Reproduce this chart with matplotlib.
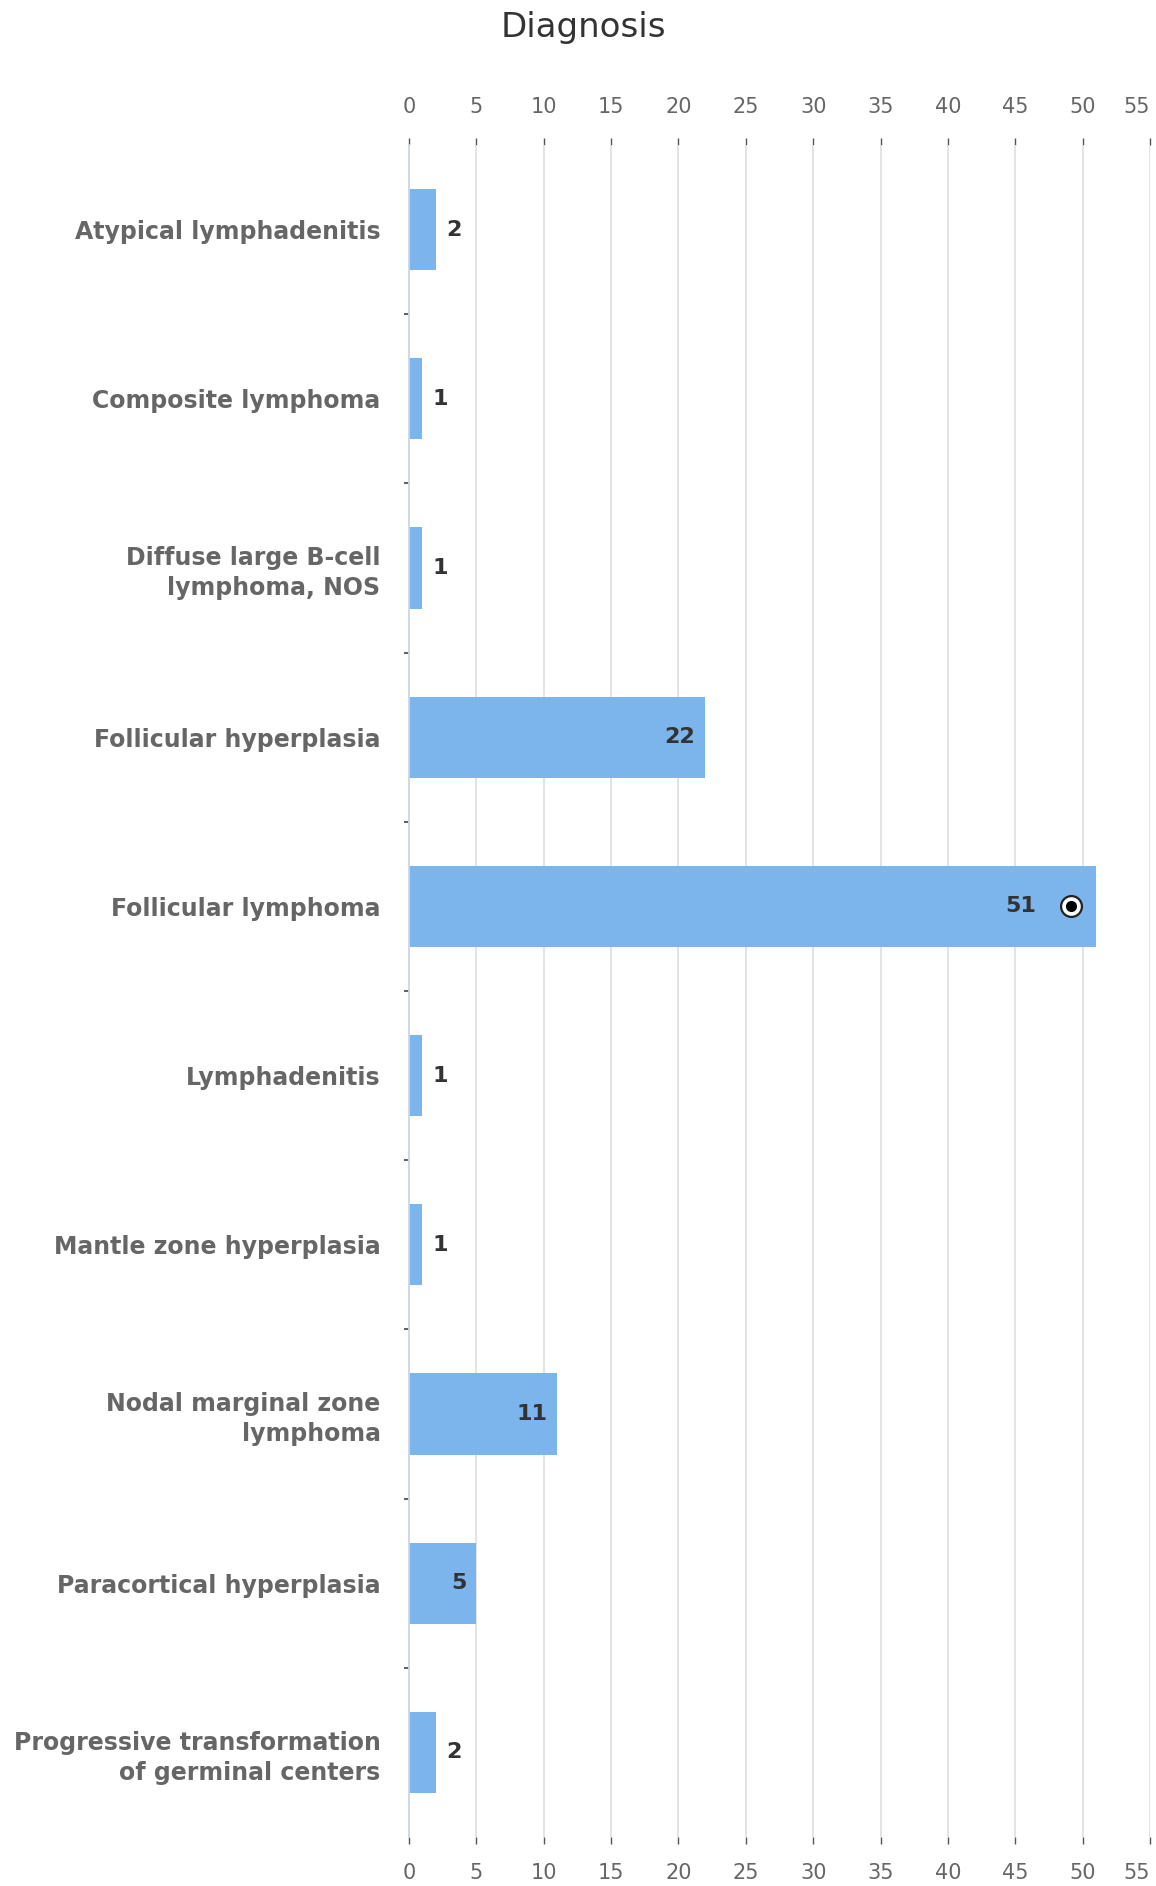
import matplotlib
matplotlib.use("Agg")
import matplotlib.pyplot as plt
import matplotlib.transforms as mtransforms
import numpy as np

# Diagnosis counts
categories = [
    "Atypical lymphadenitis",
    "Composite lymphoma",
    "Diffuse large B-cell\nlymphoma, NOS",
    "Follicular hyperplasia",
    "Follicular lymphoma",
    "Lymphadenitis",
    "Mantle zone hyperplasia",
    "Nodal marginal zone\nlymphoma",
    "Paracortical hyperplasia",
    "Progressive transformation\nof germinal centers",
]
counts = [2, 1, 1, 22, 51, 1, 1, 11, 5, 2]
x_ticks = [0, 5, 10, 15, 20, 25, 30, 35, 40, 45, 50, 55]
highlighted = "Follicular lymphoma"

BAR_COLOR = "#7cb5ec"
GRID_COLOR = "#e0e0e0"
AXIS_COLOR = "#ccd6eb"
LABEL_COLOR = "#666666"
TEXT_COLOR = "#333333"

W, H, DPI = 1156, 1886, 100
fig = plt.figure(figsize=(W / DPI, H / DPI), dpi=DPI)
ax = fig.add_axes([409 / W, 1 - 1837 / H, (1150 - 409) / W, (1837 - 145) / H])

y = np.arange(len(categories))
ax.barh(y, counts, height=0.48, color=BAR_COLOR, zorder=3)

ax.set_xlim(0, 55)
ax.set_ylim(len(categories) - 0.5, -0.5)

# grid and spines
ax.set_xticks(x_ticks)
ax.xaxis.grid(True, color=GRID_COLOR, linewidth=1.3, zorder=0)
ax.yaxis.grid(False)
for s in ["top", "right", "bottom"]:
    ax.spines[s].set_visible(False)
ax.spines["left"].set_color(AXIS_COLOR)
ax.spines["left"].set_linewidth(1.3)
ax.spines["left"].set_zorder(4)

# bottom x tick labels
ax.tick_params(axis="x", which="major", direction="out", length=5, width=1,
               color="#555555", labelsize=15, labelcolor=LABEL_COLOR, pad=14)
ax.set_xticklabels([str(v) for v in x_ticks])
ax.get_xticklabels()[-1].set_horizontalalignment("right")

# top x tick labels
top = ax.secondary_xaxis("top")
top.set_xticks(x_ticks)
top.set_xticklabels([str(v) for v in x_ticks])
top.tick_params(axis="x", direction="out", length=5, width=1, color="#555555",
                labelsize=15, labelcolor=LABEL_COLOR, pad=15.5)
top.spines["top"].set_visible(False)
top.get_xticklabels()[-1].set_horizontalalignment("right")

# y axis: labels at category centres, small ticks on boundaries
ax.set_yticks(y)
ax.set_yticklabels(categories, fontsize=17, fontweight="bold",
                   color=LABEL_COLOR, linespacing=1.3)
ax.tick_params(axis="y", which="major", length=0, pad=20.5)
ax.set_yticks(np.arange(0.5, len(categories) - 0.5, 1), minor=True)
ax.tick_params(axis="y", which="minor", length=3.5, width=1.2, color="#444444",
               direction="out")

# value labels
for yi, (cat, v) in enumerate(zip(categories, counts)):
    if v >= 5:
        extra = 60 if cat == highlighted else 10
        ax.annotate(str(v), xy=(v, yi), xytext=(-extra, 0),
                    textcoords="offset pixels", ha="right", va="center",
                    fontsize=16, fontweight="bold", color=TEXT_COLOR, zorder=5)
    else:
        ax.annotate(str(v), xy=(v, yi), xytext=(10, 0),
                    textcoords="offset pixels", ha="left", va="center",
                    fontsize=16, fontweight="bold", color=TEXT_COLOR, zorder=5)

# marker on the highlighted bar
hi = categories.index(highlighted)
shift = mtransforms.ScaledTranslation(-25 / DPI, 0, fig.dpi_scale_trans)
tr = ax.transData + shift
ax.plot([counts[hi]], [hi], marker="o", markersize=15, markerfacecolor="white",
        markeredgecolor="#222222", markeredgewidth=1.6, transform=tr, zorder=6)
ax.plot([counts[hi]], [hi], marker="o", markersize=7, color="black",
        transform=tr, zorder=7)

fig.text(583 / W, 1 - 27 / H, "Diagnosis", ha="center", va="center",
         fontsize=24.5, color=TEXT_COLOR)

fig.savefig("out.png", dpi=DPI)
